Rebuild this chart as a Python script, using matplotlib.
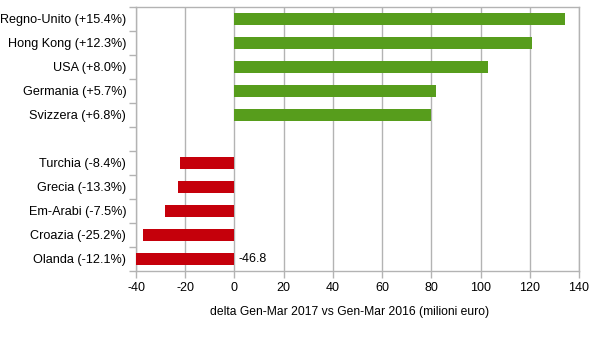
import matplotlib
matplotlib.use("Agg")
import matplotlib.pyplot as plt
import numpy as np

plt.rcParams['font.family'] = ['Liberation Sans', 'DejaVu Sans']

pos_labels = ["Regno-Unito (+15.4%)", "Hong Kong (+12.3%)", "USA (+8.0%)",
              "Germania (+5.7%)", "Svizzera (+6.8%)"]
pos_values = [134.3, 120.9, 103.0, 81.9, 79.9]
neg_labels = ["Turchia (-8.4%)", "Grecia (-13.3%)", "Em-Arabi (-7.5%)",
              "Croazia (-25.2%)", "Olanda (-12.1%)"]
neg_values = [-22.1, -22.9, -28.2, -37.2, -46.8]
xticks = [-40, -20, 0, 20, 40, 60, 80, 100, 120, 140]
xlabel = "delta Gen-Mar 2017 vs Gen-Mar 2016 (milioni euro)"

GREEN = "#579D1C"
RED = "#C5000B"
GRID = "#B3B3B3"

fig = plt.figure(figsize=(6.05, 3.4), dpi=100)
ax = fig.add_axes([136/605, 1-271/340, (579-136)/605, (271-7)/340])

n_slots = len(pos_labels) + 1 + len(neg_labels)
pos_y = np.arange(len(pos_labels))
neg_y = np.arange(len(neg_labels)) + len(pos_labels) + 1

ax.barh(pos_y, pos_values, height=0.5, color=GREEN, zorder=3)
ax.barh(neg_y, neg_values, height=0.5, color=RED, zorder=3)

ax.set_xlim(xticks[0], xticks[-1])
ax.set_ylim(n_slots - 0.5, -0.5)
ax.set_xticks(xticks)
ax.set_xticklabels([str(t) for t in xticks])
ax.set_yticks(list(pos_y) + list(neg_y))
ax.set_yticklabels(pos_labels + neg_labels)
ax.set_yticks(np.arange(n_slots + 1) - 0.5, minor=True)

ax.tick_params(axis='y', which='major', length=0, pad=7, labelsize=9.1, labelcolor='#000000')
ax.tick_params(axis='y', which='minor', length=5, color=GRID, width=1)
ax.tick_params(axis='x', which='major', length=5, color=GRID, width=1, labelsize=9, pad=3)

ax.grid(axis='x', color=GRID, linewidth=1, zorder=0)
for s in ax.spines.values():
    s.set_color(GRID)
    s.set_linewidth(1)

# data label for the clipped bar
ax.text(1.5, neg_y[-1], f"{neg_values[-1]:.1f}", va='center', ha='left', fontsize=9)

ax.set_xlabel(xlabel, fontsize=8.7)
ax.xaxis.set_label_coords((350 - 136) / 443, -(306 - 271) / 264)

fig.savefig("out.png", dpi=100)
